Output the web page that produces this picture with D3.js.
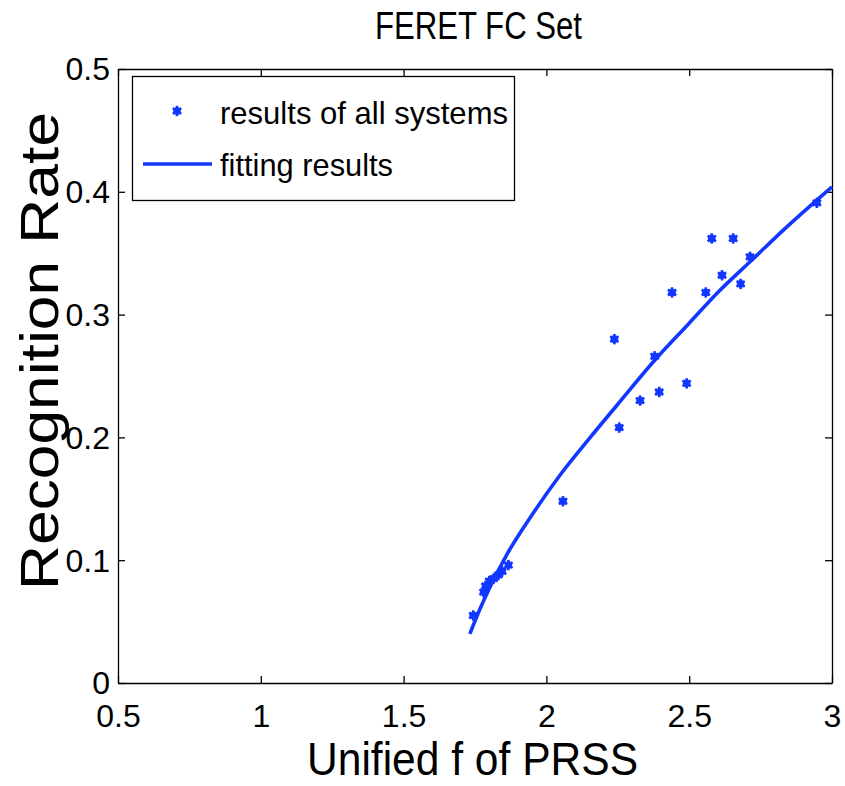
<!DOCTYPE html>
<html>
<head>
<meta charset="utf-8">
<script src="https://cdn.jsdelivr.net/npm/d3@7"></script>
<style>
  html, body { margin: 0; padding: 0; background: #fff; }
  svg { display: block; font-family: "Liberation Sans", Arial, Helvetica, sans-serif; }
</style>
</head>
<body>
<svg id="chart" width="845" height="786"></svg>
<script>
// ---- data ----
const titleText = "FERET FC Set";
const xLabel = "Unified f of PRSS";
const yLabel = "Recognition Rate";
const legendLabels = ["results of all systems", "fitting results"];

const xTicks = [0.5, 1, 1.5, 2, 2.5, 3];
const xTickLabels = ["0.5", "1", "1.5", "2", "2.5", "3"];
const yTicks = [0, 0.1, 0.2, 0.3, 0.4, 0.5];
const yTickLabels = ["0", "0.1", "0.2", "0.3", "0.4", "0.5"];

// scatter: results of all systems
const pointX = [1.744, 1.780, 1.787, 1.800, 1.815, 1.832, 1.845, 1.867, 2.058,
                2.238, 2.255, 2.328, 2.379, 2.395, 2.440, 2.491, 2.558, 2.579,
                2.615, 2.654, 2.680, 2.713, 2.947];
const pointY = [0.055, 0.074, 0.079, 0.083, 0.085, 0.088, 0.091, 0.096, 0.148,
                0.280, 0.208, 0.230, 0.266, 0.237, 0.318, 0.244, 0.318, 0.362,
                0.332, 0.362, 0.325, 0.347, 0.391];

// fitted curve
const fitX = [1.732, 1.767, 1.80, 1.86, 1.95, 2.05, 2.15, 2.25, 2.38, 2.50, 2.60, 2.713, 2.84, 3.0];
const fitY = [0.040, 0.060, 0.077, 0.104, 0.137, 0.170, 0.199, 0.227, 0.263, 0.293, 0.318, 0.343, 0.371, 0.404];

// ---- drawing ----
(function () {
const svg = d3.select("#chart");
const blue = "#1238ff";
const padL = 118, padR = 832, padT = 69, padB = 683;

const x = d3.scaleLinear().domain([0.5, 3]).range([padL, padR]);
const y = d3.scaleLinear().domain([0, 0.5]).range([padB, padT]);

const tickLen = 7;

const gx = svg.append("g").attr("transform", `translate(0,${padB})`)
  .call(d3.axisBottom(x).tickValues(xTicks).tickSizeInner(-tickLen).tickSizeOuter(0)
        .tickFormat((d, i) => xTickLabels[i]));
const gxTop = svg.append("g").attr("transform", `translate(0,${padT})`)
  .call(d3.axisTop(x).tickValues(xTicks).tickSizeInner(-tickLen).tickSizeOuter(0).tickFormat(""));
const gy = svg.append("g").attr("transform", `translate(${padL},0)`)
  .call(d3.axisLeft(y).tickValues(yTicks).tickSizeInner(-tickLen).tickSizeOuter(0)
        .tickFormat((d, i) => yTickLabels[i]));
const gyRight = svg.append("g").attr("transform", `translate(${padR},0)`)
  .call(d3.axisRight(y).tickValues(yTicks).tickSizeInner(-tickLen).tickSizeOuter(0).tickFormat(""));

[gx, gxTop, gy, gyRight].forEach(g => {
  g.selectAll("path.domain").attr("stroke", "#000").attr("stroke-width", 1.3);
  g.selectAll(".tick line").attr("stroke", "#000").attr("stroke-width", 1.3);
  g.selectAll("text").attr("font-family", '"Liberation Sans", Arial, sans-serif')
    .attr("font-size", 32).attr("fill", "#000");
});
gx.selectAll(".tick text").attr("y", 44).attr("dy", null);
gy.selectAll(".tick text").attr("x", -8).attr("dy", "0.34em");

// fitted line
const fitData = fitX.map((v, i) => [v, fitY[i]]);
svg.append("path")
  .datum(fitData)
  .attr("fill", "none")
  .attr("stroke", blue)
  .attr("stroke-width", 3.6)
  .attr("stroke-linejoin", "round")
  .attr("d", d3.line().x(d => x(d[0])).y(d => y(d[1])).curve(d3.curveMonotoneX));

function drawMarker(g, cx, cy) {
  const m = g.append("g").attr("transform", `translate(${cx},${cy})`);
  m.append("circle").attr("r", 3.8).attr("fill", blue);
  const r = 5.2;
  [[0, -r, 0, r], [-r * 0.8, -r * 0.55, r * 0.8, r * 0.55], [-r * 0.8, r * 0.55, r * 0.8, -r * 0.55]]
    .forEach(s => m.append("line").attr("x1", s[0]).attr("y1", s[1]).attr("x2", s[2]).attr("y2", s[3])
      .attr("stroke", blue).attr("stroke-width", 2.6));
}
const pts = svg.append("g");
pointX.forEach((v, i) => drawMarker(pts, x(v), y(pointY[i])));

// legend
const lg = svg.append("g");
lg.append("rect").attr("x", 132.5).attr("y", 76.5).attr("width", 382).attr("height", 124)
  .attr("fill", "#fff").attr("stroke", "#000").attr("stroke-width", 1.3);
drawMarker(lg, 177, 111);
lg.append("line").attr("x1", 143).attr("x2", 212).attr("y1", 164).attr("y2", 164)
  .attr("stroke", blue).attr("stroke-width", 3.6);
lg.append("text").attr("x", 220).attr("y", 124).attr("font-size", 32)
  .attr("textLength", 288).attr("lengthAdjust", "spacingAndGlyphs").text(legendLabels[0]);
lg.append("text").attr("x", 220).attr("y", 176).attr("font-size", 32)
  .attr("textLength", 173).attr("lengthAdjust", "spacingAndGlyphs").text(legendLabels[1]);

// title & axis labels
svg.append("text").attr("x", 375).attr("y", 39).attr("font-size", 38)
  .attr("textLength", 207).attr("lengthAdjust", "spacingAndGlyphs").text(titleText);
svg.append("text").attr("x", 307).attr("y", 775).attr("font-size", 47)
  .attr("textLength", 331).attr("lengthAdjust", "spacingAndGlyphs").text(xLabel);
svg.append("text").attr("transform", "translate(58,590) rotate(-90)").attr("font-size", 53)
  .attr("textLength", 478).attr("lengthAdjust", "spacingAndGlyphs").text(yLabel);
})();
</script>
</body>
</html>
